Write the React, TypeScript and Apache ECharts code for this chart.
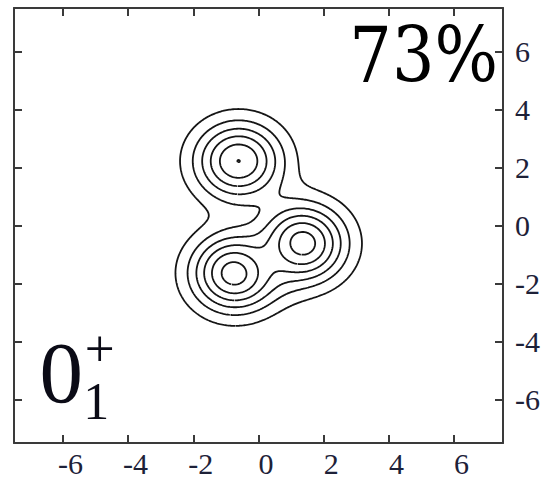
import React, { useEffect, useRef } from "react";
import * as echarts from "echarts";

// Three-cluster density: centre positions, peak heights and spreads (2σ²).
const clusterX = [-0.61, -0.73, 1.33];
const clusterY = [2.22, -1.64, -0.62];
const clusterPeak = [6.007, 6.6, 6.6];
const clusterSpread = [1.8, 1.75, 1.8];
// Reduction of the density where two or three clusters overlap.
const pairDamping = 0.19;
const tripleDamping = 0.45;
// Contour heights drawn.
const contourLevels = [1, 2, 3, 4, 5, 6];
// Axis ticks and extent.
const tickValues = [-6, -4, -2, 0, 2, 4, 6];
const axisMin = -7.5;
const axisMax = 7.5;
// Annotations.
const stateBase = "0";
const stateSub = "1";
const stateSup = "+";
const fractionLabel = "73%";

type Pt = [number, number];

function density(x: number, y: number): number {
  const g = clusterX.map(
    (cx, i) =>
      clusterPeak[i] *
      Math.exp(-((x - cx) ** 2 + (y - clusterY[i]) ** 2) / clusterSpread[i])
  );
  let sum = 0;
  let pairs = 0;
  for (let i = 0; i < g.length; i++) {
    sum += g[i];
    for (let j = i + 1; j < g.length; j++) pairs += g[i] * g[j];
  }
  return sum - pairDamping * pairs - tripleDamping * g[0] * g[1] * g[2];
}

// Marching squares over a sampled field, chained into closed polylines.
function buildContours(levels: number[]): { level: number; line: Pt[] }[] {
  const x0 = -4.2;
  const y0 = -4.8;
  const h = 0.02;
  const nx = 441;
  const ny = 491;
  const F = new Float64Array(nx * ny);
  for (let j = 0; j < ny; j++)
    for (let i = 0; i < nx; i++) F[j * nx + i] = density(x0 + i * h, y0 + j * h);

  const out: { level: number; line: Pt[] }[] = [];
  for (const L of levels) {
    const pts = new Map<number, Pt>();
    const adj = new Map<number, number[]>();
    const hKey = (i: number, j: number) => (j * nx + i) * 2;
    const vKey = (i: number, j: number) => (j * nx + i) * 2 + 1;
    const link = (a: number, b: number) => {
      if (!adj.has(a)) adj.set(a, []);
      if (!adj.has(b)) adj.set(b, []);
      adj.get(a)!.push(b);
      adj.get(b)!.push(a);
    };
    for (let j = 0; j < ny - 1; j++) {
      for (let i = 0; i < nx - 1; i++) {
        const a = F[j * nx + i];
        const b = F[j * nx + i + 1];
        const c = F[(j + 1) * nx + i + 1];
        const d = F[(j + 1) * nx + i];
        const idx = (a > L ? 1 : 0) | (b > L ? 2 : 0) | (c > L ? 4 : 0) | (d > L ? 8 : 0);
        if (idx === 0 || idx === 15) continue;
        const xi = x0 + i * h;
        const yj = y0 + j * h;
        const B = () => {
          const k = hKey(i, j);
          if (!pts.has(k)) pts.set(k, [xi + ((L - a) / (b - a)) * h, yj]);
          return k;
        };
        const T = () => {
          const k = hKey(i, j + 1);
          if (!pts.has(k)) pts.set(k, [xi + ((L - d) / (c - d)) * h, yj + h]);
          return k;
        };
        const Lf = () => {
          const k = vKey(i, j);
          if (!pts.has(k)) pts.set(k, [xi, yj + ((L - a) / (d - a)) * h]);
          return k;
        };
        const R = () => {
          const k = vKey(i + 1, j);
          if (!pts.has(k)) pts.set(k, [xi + h, yj + ((L - b) / (c - b)) * h]);
          return k;
        };
        const centre = (a + b + c + d) / 4 > L;
        switch (idx) {
          case 1: case 14: link(B(), Lf()); break;
          case 2: case 13: link(B(), R()); break;
          case 3: case 12: link(Lf(), R()); break;
          case 4: case 11: link(R(), T()); break;
          case 6: case 9: link(B(), T()); break;
          case 7: case 8: link(Lf(), T()); break;
          case 5:
            if (centre) { link(B(), R()); link(T(), Lf()); }
            else { link(B(), Lf()); link(R(), T()); }
            break;
          case 10:
            if (centre) { link(B(), Lf()); link(R(), T()); }
            else { link(B(), R()); link(Lf(), T()); }
            break;
        }
      }
    }
    const visited = new Set<number>();
    for (const start of adj.keys()) {
      if (visited.has(start)) continue;
      const line: Pt[] = [];
      let prev = -1;
      let cur = start;
      for (;;) {
        visited.add(cur);
        line.push(pts.get(cur)!);
        const nb = adj.get(cur)!;
        const nxt = nb[0] !== prev ? nb[0] : nb[1];
        if (nxt === undefined) break;
        if (nxt === start) { line.push(pts.get(start)!); break; }
        if (visited.has(nxt)) break;
        prev = cur;
        cur = nxt;
      }
      if (line.length > 2) out.push({ level: L, line });
    }
  }
  return out;
}

const axisColor = "#3a3a3a";
const labelFont = "Liberation Serif";

function makeAxis(position: string, withLabels: boolean) {
  const bottom = position === "bottom";
  return {
    type: "value",
    position,
    min: axisMin,
    max: axisMax,
    axisLine: { show: true, onZero: false, lineStyle: { color: axisColor, width: 2 } },
    axisTick: {
      show: true,
      inside: true,
      length: 8,
      customValues: tickValues,
      lineStyle: { color: axisColor, width: 2 },
    },
    axisLabel: withLabels
      ? {
          show: true,
          customValues: tickValues,
          fontFamily: labelFont,
          fontSize: 30,
          lineHeight: 22,
          color: "#1d2138",
          margin: bottom ? 9 : 12,
          padding: bottom ? [0, 0, 0, 15] : 0,
          formatter: (v: number) => String(v),
        }
      : { show: false },
    splitLine: { show: false },
  };
}

export default function App() {
  const ref = useRef<HTMLDivElement>(null);
  useEffect(() => {
    if (!ref.current) return;
    const chart = echarts.init(ref.current, undefined, { renderer: "svg" });
    const contours = buildContours(contourLevels);
    const series = contours.map((c) => ({
      type: "line",
      xAxisIndex: 0,
      yAxisIndex: 0,
      data: c.line,
      showSymbol: false,
      symbol: "none",
      silent: true,
      lineStyle: { color: "#151515", width: 1.8 },
      z: 3,
    }));
    chart.setOption({
      animation: false,
      backgroundColor: "#ffffff",
      grid: { left: 14, right: 34, top: 8, bottom: 35, containLabel: false },
      xAxis: [makeAxis("bottom", true), makeAxis("top", false)],
      yAxis: [makeAxis("right", true), makeAxis("left", false)],
      series,
      graphic: [
        {
          type: "text",
          x: 498,
          y: 56,
          scaleX: 0.88,
          style: {
            text: fractionLabel,
            font: '76px "DejaVu Serif"',
            lineHeight: 60,
            fill: "#000000",
            align: "right",
            verticalAlign: "middle",
            textAlign: "right",
            textVerticalAlign: "middle",
          },
        },
        {
          type: "text",
          x: 39.6,
          y: 372,
          style: {
            text: stateBase,
            font: '87px "Liberation Serif"',
            lineHeight: 62,
            fill: "#0b0b16",
            align: "left",
            verticalAlign: "middle",
            textAlign: "left",
            textVerticalAlign: "middle",
          },
        },
        {
          // superscript over subscript, stacked in one block
          type: "text",
          x: 83.3,
          y: 326.3,
          style: {
            text: "{sup|" + stateSup + "}\n{sub|" + stateSub + "}",
            fill: "#0b0b16",
            align: "left",
            verticalAlign: "top",
            textAlign: "left",
            textVerticalAlign: "top",
            rich: {
              sup: {
                font: '53px "Liberation Serif"',
                lineHeight: 44,
                padding: [0, 0, 0, 1.5],
                fill: "#0b0b16",
              },
              sub: {
                font: '52px "Liberation Serif"',
                lineHeight: 63,
                fill: "#0b0b16",
              },
            },
          },
        },
      ],
    });
    return () => chart.dispose();
  }, []);
  return (
    <div
      ref={ref}
      style={{ position: "fixed", left: 0, top: 0, width: 543, height: 478 }}
    />
  );
}
